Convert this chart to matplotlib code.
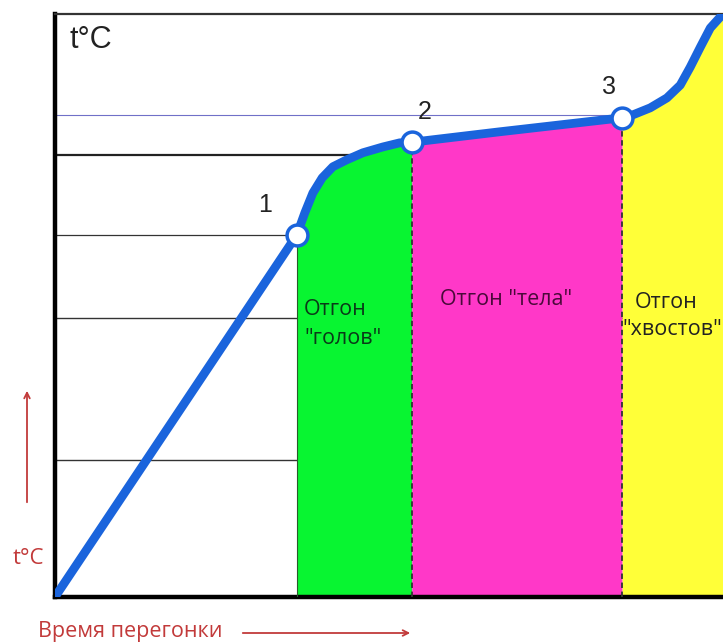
import matplotlib.pyplot as plt
import numpy as np

# distillation curve (time %, temperature %)
time = [0, 36.2, 37.4, 38.6, 40.0, 41.6, 43.7, 46.1, 49.1, 51.6, 53.4, 66.6, 84.9,
        86.5, 89.1, 91.6, 93.6, 95.1, 96.6, 98.1, 99.6, 100]
temp = [0, 62.1, 65.9, 69.3, 71.9, 73.8, 75.0, 76.2, 77.2, 77.9, 78.0, 79.8, 82.2,
        82.7, 83.9, 85.6, 87.8, 90.9, 94.3, 97.6, 99.5, 100]

# key points 1, 2, 3
pt_time = [36.2, 53.4, 84.9]
pt_temp = [62.1, 78.0, 82.2]
pt_labels = ["1", "2", "3"]
pt_label_pos = [(31.4, 67.2), (55.4, 83.2), (82.9, 87.5)]

# fraction zones: start, end, colour
zones = [(36.2, 53.4, "#08f531"), (53.4, 84.9, "#ff38c8"), (84.9, 100, "#ffff38")]

# horizontal reference lines
grid_levels = [82.7, 75.8, 62.1, 47.9, 23.5]
grid_colors = ["#7070c8", "#222222", "#333333", "#333333", "#333333"]
grid_widths = [0.8, 1.6, 0.9, 1.0, 1.0]

fig = plt.figure(figsize=(7.23, 6.42), dpi=100)
ax = fig.add_axes([55 / 723, 45 / 642, 668 / 723, 583 / 642])
ax.set_xlim(0, 100)
ax.set_ylim(0, 100)

t = np.array(time)
T = np.array(temp)

for lvl, c, w in zip(grid_levels, grid_colors, grid_widths):
    ax.axhline(lvl, color=c, lw=w, zorder=1)

for a, b, c in zones:
    m = (t >= a) & (t <= b)
    ax.fill_between(t[m], 0, T[m], color=c, lw=0, zorder=2)

# thin edge at start of green zone, dashed dividers
ax.plot([pt_time[0], pt_time[0]], [0, pt_temp[0]], color="#2a5a2a", lw=0.8, zorder=3)
for x, y in zip(pt_time[1:], pt_temp[1:]):
    ax.plot([x, x], [0, y], color="#333333", lw=1.3, ls=(0, (3, 2)), zorder=3)

ax.plot(t, T, color="#1a64dc", lw=6.3, solid_capstyle="round", solid_joinstyle="round", zorder=4)
ax.plot(pt_time, pt_temp, "o", ms=15, mfc="white", mec="#1a64dc", mew=2.5, zorder=5)

for lab, (x, y) in zip(pt_labels, pt_label_pos):
    ax.text(x, y, lab, fontsize=18, family="Liberation Sans", color="#222222",
            ha="center", va="center", zorder=6)

ax.text(2.2, 95.5, "t°C", fontsize=22, family="Liberation Sans", color="#222222",
        ha="left", va="center")

# zone captions
fs = 15.5
ax.text(37.3, 49.3, "Отгон", fontsize=fs, family="Open Sans", color="#0a3a18", va="center")
ax.text(37.3, 44.3, "\"голов\"", fontsize=fs, family="Open Sans", color="#0a3a18", va="center")
ax.text(57.6, 51.0, "Отгон \"тела\"", fontsize=fs, family="Open Sans", color="#4a0a3a",
        ha="left", va="center")
ax.text(86.8, 50.6, "Отгон", fontsize=fs, family="Open Sans", color="#222222", va="center")
ax.text(84.9, 45.8, "\"хвостов\"", fontsize=fs, family="Open Sans", color="#222222", va="center",
        clip_on=True)

for s in ["left", "bottom"]:
    ax.spines[s].set_linewidth(3.2)
    ax.spines[s].set_color("black")
ax.spines["top"].set_linewidth(1.6)
ax.spines["top"].set_color("#333333")
ax.spines["right"].set_visible(False)
ax.set_xticks([])
ax.set_yticks([])

# red axis notes outside the frame
red = "#c23a3a"
fig.text(28 / 723, 1 - 558 / 642, "t°C", fontsize=16, family="Open Sans", color=red,
         ha="center", va="center")
ax.annotate("", xy=(27, 642 - 388), xytext=(27, 642 - 505), xycoords="figure pixels",
            textcoords="figure pixels",
            arrowprops=dict(arrowstyle="->", color=red, lw=1.3))
fig.text(38 / 723, 1 - 631 / 642, "Время перегонки", fontsize=15.5, family="Open Sans", color=red,
         ha="left", va="center")
ax.annotate("", xy=(413, 642 - 633), xytext=(240, 642 - 633), xycoords="figure pixels",
            textcoords="figure pixels",
            arrowprops=dict(arrowstyle="->", color=red, lw=1.3))

fig.savefig("out.png", dpi=100)
